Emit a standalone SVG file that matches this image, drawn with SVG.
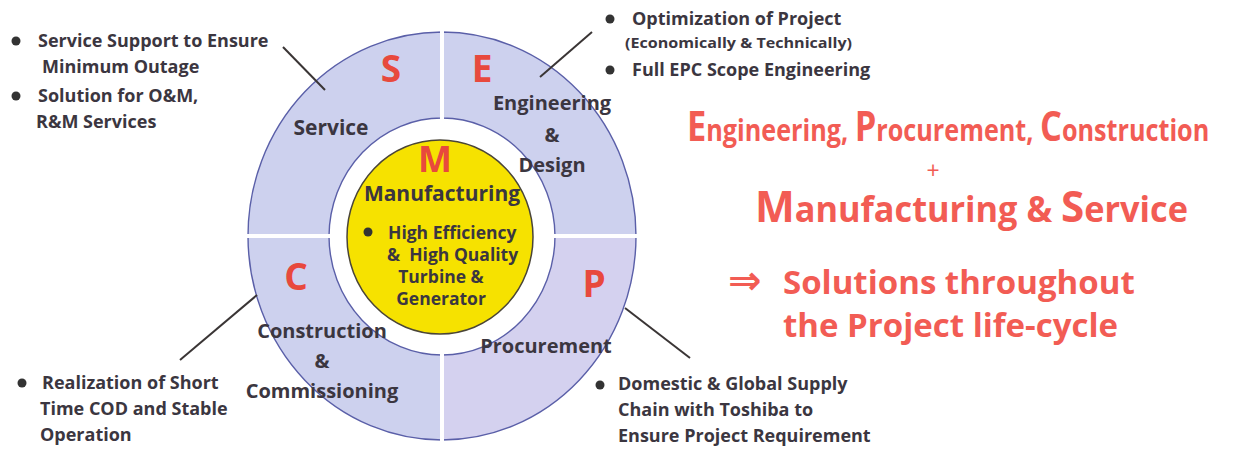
<svg xmlns="http://www.w3.org/2000/svg" width="1240" height="450" viewBox="0 0 1240 450">
<style>
  text { font-family: "Open Sans", "DejaVu Sans", sans-serif; font-weight: 700; }
  .body { fill: #3b3640; font-size: 18px; }
  .small { fill: #3b3640; font-size: 15px; }
  .ring { fill: #3b3640; font-size: 20px; text-anchor: middle; }
  .inner { fill: #3b3640; font-size: 17.5px; }
  .init { fill: #e8493d; font-size: 37px; text-anchor: middle; }
  .quad { stroke: #5a5fa8; stroke-width: 1.4; }
  .divider { stroke: #ffffff; stroke-width: 4; }
  .leader { stroke: #3a3535; stroke-width: 2; fill: none; }
  .dot { fill: #333333; }
  .head { fill: #f25c54; }
</style>
<rect width="1240" height="450" fill="#ffffff"/>

<g id="ring">
  <g id="quad-service"><path class="quad" fill="#cdd1ee" d="M248,236 A194,204 0 0 1 442,32 L442,118 A113,119 0 0 0 329,236 Z"/></g>
  <g id="quad-engineering"><path class="quad" fill="#cdd1ee" d="M442,32 A194,204 0 0 1 636,236 L555,236 A113,119 0 0 0 442,118 Z"/></g>
  <g id="quad-procurement"><path class="quad" fill="#d4d1ef" d="M636,236 A194,204 0 0 1 442,440 L442,355 A113,119 0 0 0 555,236 Z"/></g>
  <g id="quad-construction"><path class="quad" fill="#cdd1ee" d="M442,440 A194,204 0 0 1 248,236 L329,236 A113,119 0 0 0 442,355 Z"/></g>
  <line class="divider" x1="442" y1="28" x2="442" y2="120"/>
  <line class="divider" x1="442" y1="353" x2="442" y2="444"/>
  <line class="divider" x1="244" y1="236" x2="331" y2="236"/>
  <line class="divider" x1="553" y1="236" x2="640" y2="236"/>
</g>

<g id="service">
  <text class="init" x="391" y="82">S</text>
  <text class="ring" x="331" y="135" style="font-size:21px">Service</text>
</g>
<g id="engineering">
  <text class="init" x="482" y="82">E</text>
  <text class="ring" x="552" y="110">Engineering</text>
  <text class="ring" x="552" y="142">&amp;</text>
  <text class="ring" x="552" y="172">Design</text>
</g>
<g id="construction">
  <text class="init" x="296" y="290">C</text>
  <text class="ring" x="322" y="338">Construction</text>
  <text class="ring" x="322" y="368">&amp;</text>
  <text class="ring" x="322" y="398">Commissioning</text>
</g>
<g id="procurement">
  <text class="init" x="594" y="297">P</text>
  <text class="ring" x="546" y="353">Procurement</text>
</g>
<g id="manufacturing">
  <ellipse cx="440" cy="237" rx="93" ry="97" fill="#f6e200" stroke="#4a4538" stroke-width="1.5"/>
  <text class="init" x="435" y="172" style="font-size:36px">M</text>
  <text class="ring" x="442" y="201" style="font-size:21px">Manufacturing</text>
  <circle class="dot" cx="368" cy="232" r="4.5"/>
  <text class="inner" x="388" y="239">High Efficiency</text>
  <text class="inner" x="387" y="261" xml:space="preserve">&amp;  High Quality</text>
  <text class="inner" x="441" y="283" text-anchor="middle">Turbine &amp;</text>
  <text class="inner" x="441" y="305" text-anchor="middle">Generator</text>
</g>

<g id="connectors">
  <line class="leader" x1="283" y1="47" x2="325" y2="90"/>
  <line class="leader" x1="592" y1="32" x2="540" y2="77"/>
  <line class="leader" x1="257" y1="295" x2="180" y2="360"/>
  <line class="leader" x1="625" y1="308" x2="690" y2="358"/>
</g>

<g id="note-service">
  <circle class="dot" cx="16" cy="41" r="4.5"/>
  <text class="body" x="38" y="47">Service Support to Ensure</text>
  <text class="body" x="42" y="73">Minimum Outage</text>
  <circle class="dot" cx="16" cy="96" r="4.5"/>
  <text class="body" x="38" y="102">Solution for O&amp;M,</text>
  <text class="body" x="36" y="128">R&amp;M Services</text>
</g>
<g id="note-engineering">
  <circle class="dot" cx="610" cy="19" r="4.5"/>
  <text class="body" x="632" y="25">Optimization of Project</text>
  <text class="small" x="625" y="48" textLength="227" lengthAdjust="spacingAndGlyphs">(Economically &amp; Technically)</text>
  <circle class="dot" cx="610" cy="70" r="4.5"/>
  <text class="body" x="632" y="76">Full EPC Scope Engineering</text>
</g>
<g id="note-construction">
  <circle class="dot" cx="22" cy="383" r="4.5"/>
  <text class="body" x="42" y="389">Realization of Short</text>
  <text class="body" x="40" y="415">Time COD and Stable</text>
  <text class="body" x="40" y="441">Operation</text>
</g>
<g id="note-procurement">
  <circle class="dot" cx="600" cy="385" r="4.5"/>
  <text class="body" x="618" y="390">Domestic &amp; Global Supply</text>
  <text class="body" x="618" y="416">Chain with Toshiba to</text>
  <text class="body" x="618" y="442">Ensure Project Requirement</text>
</g>

<g id="headline">
  <text class="head" transform="translate(687,141) scale(0.84,1)" style="font-size:30px"><tspan style="font-size:41px">E</tspan>ngineering, <tspan style="font-size:41px">P</tspan>rocurement, <tspan style="font-size:41px">C</tspan>onstruction</text>
  <text class="head" x="933" y="179" style="font-size:23px;font-weight:400" text-anchor="middle">+</text>
  <text class="head" transform="translate(755,222) scale(0.98,1)" style="font-size:35px"><tspan style="font-size:43px">M</tspan>anufacturing &amp; <tspan style="font-size:43px">S</tspan>ervice</text>
  <text class="head" x="728" y="294" style="font-size:33px"><tspan style="font-family:'DejaVu Sans',sans-serif;font-size:40px">⇒</tspan><tspan x="783">Solutions throughout</tspan></text>
  <text class="head" x="783" y="337" style="font-size:33px">the Project life-cycle</text>
</g>
</svg>
